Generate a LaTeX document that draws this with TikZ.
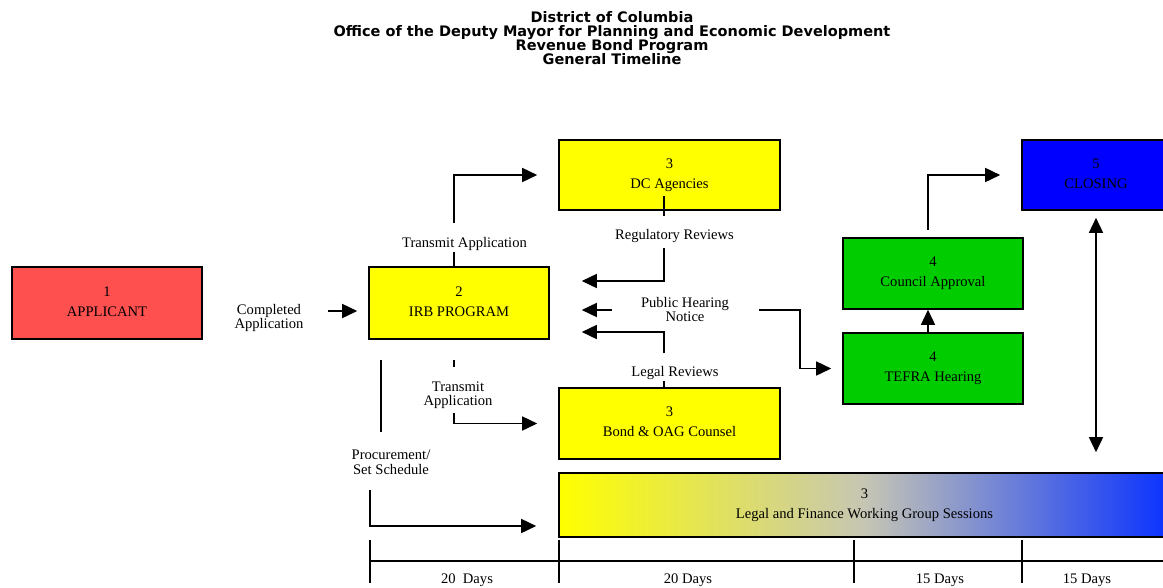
\documentclass[tikz,border=0pt]{standalone}
\usepackage{fontspec}
\setmainfont{Liberation Serif}
\newfontfamily\titlefont{DejaVu Sans}
\usetikzlibrary{arrows.meta}

\definecolor{appred}{RGB}{255,80,80}
\definecolor{boxyellow}{RGB}{255,255,0}
\definecolor{boxgreen}{RGB}{0,204,0}
\definecolor{boxblue}{RGB}{0,0,255}
\definecolor{wgmid}{RGB}{198,198,180}
\definecolor{wgblue}{RGB}{10,50,255}

\begin{document}
\begin{tikzpicture}[x=1pt,y=-1pt,->,>={Triangle[length=15pt,width=14pt]},line width=1.6pt,node distance=95pt,
		box node/.style={draw=black,line width=1.6pt,align=center,inner sep=0pt,minimum height=71pt,text depth=3.2pt,font=\fontsize{14.6}{20}\selectfont},
		label node/.style={align=center,inner sep=0pt,anchor=north,font=\fontsize{14.6}{13}\selectfont},
		day node/.style={inner sep=0pt,anchor=base,font=\fontsize{14.6}{17}\selectfont}]
		\useasboundingbox (0,0) rectangle (1163,587);
		
		% title
		\node[align=center,anchor=north,inner sep=0pt,font=\titlefont\bfseries\fontsize{14.5}{14.2}\selectfont] (title) at (612,10.5)
		{District of Columbia\\Office of the Deputy Mayor for Planning and Economic Development\\Revenue Bond Program\\General Timeline};
		
		% boxes
		\node[box node,fill=appred,minimum width=190pt,minimum height=72pt] (app) at (107,303) {1\\APPLICANT};
		\node[box node,fill=boxyellow,minimum width=180pt,minimum height=72pt] (irb) at (459,303) {2\\IRB PROGRAM};
		\node[box node,fill=boxyellow,minimum width=221pt,minimum height=70pt] (dc) at (669.5,175) {3\\DC Agencies};
		\node[box node,fill=boxyellow,minimum width=221pt] (bond) at (669.5,423.5) {3\\Bond \& OAG Counsel};
		\node[box node,fill=boxgreen,minimum width=180pt] (council) at (933,273.5) {4\\Council Approval};
		\node[box node,fill=boxgreen,minimum width=180pt] (tefra) [below of=council] {4\\TEFRA Hearing};
		\node[box node,fill=boxblue,minimum width=148pt,minimum height=70pt] (closing) at (1096,175) {5\\CLOSING};
		\node[box node,left color=boxyellow,right color=wgblue,middle color=wgmid,minimum width=611pt,minimum height=64pt] (wgs) at (864.5,505) {3\\Legal and Finance Working Group Sessions};
		
		% labels
		\node[label node] (lcompl) at (269,303.3) {Completed\\Application};
		\node[label node] (ltrans1) at (464.5,236.7) {Transmit Application};
		\node[label node] (lreg) at (674.5,229) {Regulatory Reviews};
		\node[label node,font=\fontsize{14.6}{12}\selectfont] (lpub) at (685,296.7) {Public Hearing\\Notice};
		\node[label node] (llegal) at (675,365.7) {Legal Reviews};
		\node[label node,font=\fontsize{14.6}{14.3}\selectfont] (ltrans2) at (458,381) {Transmit\\Application};
		\node[label node,font=\fontsize{14.6}{15}\selectfont] (lproc) at (391,449.3) {Procurement/\\Set Schedule};
		
		% completed application
		\coordinate (compl out) at (328,311);
		\draw[shorten >=11pt] (compl out) -- (compl out -| irb.west);
		
		% transmit to agencies
		\coordinate (tr1) at (454,223);
		\draw[-] (irb.north -| tr1) -- (ltrans1.south -| tr1);
		\draw[shorten >=21pt] (tr1) |- (dc.west);
		
		% regulatory reviews
		\coordinate (reg) at (664,196);
		\draw[-,shorten >=13pt] (reg) -- (lreg.north -| reg);
		\draw[shorten <=4pt,shorten >=32pt] (lreg.south -| reg) |- ([yshift=22pt]irb.east);
		
		% public hearing notice
		\coordinate (pub w) at (612,310);
		\coordinate (pub e) at (759,310);
		\draw[shorten >=32pt] (pub w) -- (pub w -| irb.east);
		\draw[shorten >=11pt] (pub e) -| ([xshift=-42pt]tefra.west) -- (tefra.west);
		
		% legal reviews
		\coordinate (leg) at (664,353);
		\draw[-] (bond.north -| leg) -- (llegal.south -| leg);
		\draw[shorten >=32pt] (leg) |- ([yshift=-29pt]irb.east);
		
		% transmit to counsel
		\coordinate (tr2) at (454,360);
		\draw[-] (tr2) -- ++(0,7);
		\draw[shorten <=3pt,shorten >=21pt] (ltrans2.south -| tr2) |- (bond.west);
		
		% procurement
		\coordinate (proc) at (381,360);
		\draw[-,shorten >=17pt] (proc) -- (lproc.north -| proc);
		\coordinate (sched) at (370,490);
		\draw[shorten >=22pt] (sched) |- ([yshift=-21pt]wgs.west);
		
		% approvals and closing
		\draw ([xshift=-5pt]tefra.north) -- ([xshift=-5pt]council.south);
		\draw[shorten <=7pt,shorten >=21pt] ([xshift=-5pt]council.north) |- (closing.west);
		\draw[<->,shorten <=7pt,shorten >=20pt] (closing.south) -- (closing.south |- wgs.north);
		
		% timeline
		\coordinate (t0) at (370,561);
		\draw[-] (t0) -- (t0 -| wgs.east);
		\foreach \x in {370,559,854,1022}
		\draw[-] (\x,540) -- (\x,583);
		\node[day node] (d1) at (467,583) {20\ \ Days};
		\node[day node] (d2) at (688,583) {20 Days};
		\node[day node] (d3) at (940,583) {15 Days};
		\node[day node] (d4) at (1087,583) {15 Days};
\end{tikzpicture}
\end{document}
